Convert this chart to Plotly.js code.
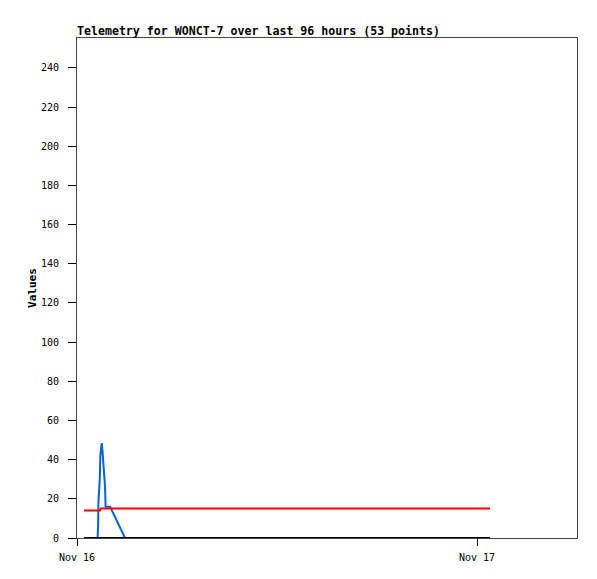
<!DOCTYPE html>
<html>
<head>
<meta charset="utf-8">
<script src="https://cdn.plot.ly/plotly-3.0.1.min.js"></script>
<style>
html,body{margin:0;padding:0;background:#fff;}
#chart{width:597px;height:579px;}
</style>
</head>
<body>
<div id="chart"></div>
<script>
// Blue series
const blueTimes = ['2024-11-16 01:14','2024-11-16 01:16','2024-11-16 01:17','2024-11-16 01:22','2024-11-16 01:24','2024-11-16 01:29','2024-11-16 01:32','2024-11-16 01:36','2024-11-16 01:41','2024-11-16 01:43','2024-11-16 01:59','2024-11-16 02:53'];
const blueValues = [0, 6, 18, 30, 42, 48.5, 44, 36, 26, 16, 16, 0];
// Red series
const redTimes = ['2024-11-16 00:25','2024-11-16 01:23','2024-11-16 01:25','2024-11-17 00:47'];
const redValues = [14, 14, 15, 15];
// Black series
const blackTimes = ['2024-11-16 00:25','2024-11-17 00:47'];
const blackValues = [0, 0];
// Axis
const xRange = ['2024-11-16 00:00','2024-11-17 06:00'];
const yRange = [0, 255.3];

const mono = '"DejaVu Sans Mono", "Liberation Mono", monospace';

const traces = [
  {x: blueTimes, y: blueValues, type:'scatter', mode:'lines', line:{color:'#0066cc', width:2}, hoverinfo:'skip'},
  {x: redTimes, y: redValues, type:'scatter', mode:'lines', line:{color:'#ff0000', width:2}, hoverinfo:'skip'},
  {x: blackTimes, y: blackValues, type:'scatter', mode:'lines', line:{color:'#000000', width:2}, hoverinfo:'skip'}
];

const layout = {
  width:597, height:579,
  margin:{l:77, r:20, t:38, b:41, pad:0},
  paper_bgcolor:'#ffffff', plot_bgcolor:'#ffffff',
  showlegend:false,
  font:{family:mono, size:10, color:'#000'},
  title:{text:'<b>Telemetry for WONCT-7 over last 96 hours (53 points)</b>', x:77/597, xref:'container', xanchor:'left', y:1-31/579, yref:'container', yanchor:'middle', font:{family:mono, size:11.6, color:'#000'}},
  xaxis:{type:'date', range:xRange, tick0:'2024-11-16', dtick:86400000, tickformat:'%b %d',
    showgrid:false, zeroline:false, showline:true, mirror:true, linecolor:'#444', linewidth:1,
    ticks:'outside', ticklen:7, tickcolor:'#000', tickwidth:1, ticklabelstandoff:3, tickfont:{family:mono, size:10, color:'#000'}},
  yaxis:{range:yRange, dtick:20, tick0:0, showgrid:false, zeroline:false, showline:true, mirror:true, linecolor:'#444', linewidth:1,
    ticks:'outside', ticklen:8, tickcolor:'#000', tickwidth:1, ticklabelstandoff:7, tickfont:{family:mono, size:10, color:'#000'},
    title:{text:'<b>Values</b>', standoff:2, font:{family:mono, size:11, color:'#000'}}}
};

Plotly.newPlot('chart', traces, layout, {staticPlot:true, displayModeBar:false});
</script>
</body>
</html>
